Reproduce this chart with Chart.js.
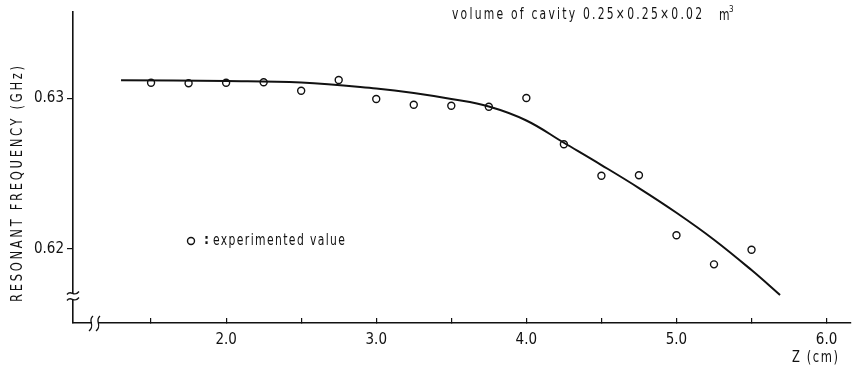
<!DOCTYPE html>
<html lang="en">
<head>
<meta charset="UTF-8" />
<title>Resonant frequency vs Z</title>
<script src="https://cdn.jsdelivr.net/npm/chart.js@4.4.0/dist/chart.umd.min.js"></script>
<style>
body { margin: 0; background: #fff; }
.wrap { position: relative; width: 856px; height: 372px; }
</style>
</head>
<body>
<div class="wrap"><canvas id="c"></canvas></div>
<script>
// measured points (circles)
const measZ = [1.5, 1.75, 2.0, 2.25, 2.5, 2.75, 3.0, 3.25, 3.5, 3.75, 4.0, 4.25, 4.5, 4.75, 5.0, 5.25, 5.5];
const measF = [0.63105, 0.63101, 0.63105, 0.63108, 0.63052, 0.63123, 0.62997, 0.62959, 0.62952, 0.62945,
               0.63003, 0.62696, 0.62487, 0.62490, 0.62091, 0.61898, 0.61995];
// fitted curve
const fitZ = [1.3, 2.0, 2.5, 3.0, 3.25, 3.5, 3.75, 4.0, 4.25, 4.5, 4.75, 5.0, 5.25, 5.5, 5.69];
const fitF = [0.63121, 0.63116, 0.63106, 0.63066, 0.63037, 0.62997, 0.62947, 0.62854, 0.62706,
              0.62558, 0.62405, 0.62241, 0.62062, 0.61860, 0.61694];
const xTicks = [1.5, 2.0, 2.5, 3.0, 3.5, 4.0, 4.5, 5.0, 5.5, 6.0];
const yTicks = [0.62, 0.63];

const FONT = '"Liberation Sans Narrow", "DejaVu Sans Condensed", "Open Sans", sans-serif';
Chart.defaults.font.family = FONT;
Chart.defaults.color = '#111';

// narrow text stretched to a given width with letter spacing
function spaced(ctx, text, x, y, width, align, sx) {
  sx = sx || 0.8;
  ctx.save();
  ctx.letterSpacing = '0px';
  const w = ctx.measureText(text).width;
  const sp = text.length > 1 ? (width / sx - w) / (text.length - 1) : 0;
  const x0 = align === 'center' ? x - width / 2 : align === 'right' ? x - width : x;
  ctx.translate(x0, y);
  ctx.scale(sx, 1);
  ctx.letterSpacing = sp + 'px';
  ctx.textAlign = 'left';
  ctx.fillText(text, 0, 0);
  ctx.restore();
}

const decor = {
  id: 'decor',
  afterDraw(chart) {
    const { ctx, chartArea: a } = chart;
    ctx.save();
    ctx.fillStyle = '#111';
    ctx.textBaseline = 'middle';

    // y axis title
    ctx.save();
    ctx.translate(18, 184);
    ctx.rotate(-Math.PI / 2);
    ctx.font = '16px ' + FONT;
    spaced(ctx, 'RESONANT FREQUENCY (GHz)', 0, 0, 236, 'center', 0.8);
    ctx.restore();

    // x axis title
    ctx.font = '16px ' + FONT;
    spaced(ctx, 'Z (cm)', 838, 358, 46, 'right', 0.8);

    // cavity note
    ctx.font = '15px ' + FONT;
    spaced(ctx, 'volume of cavity 0.25\u00d70.25\u00d70.02', 452, 15, 250, 'left', 0.8);
    spaced(ctx, 'm', 719, 16, 9, 'left', 0.8);
    ctx.font = '8px ' + FONT;
    ctx.fillText('3', 729, 10);

    // legend
    ctx.strokeStyle = '#111';
    ctx.lineWidth = 1.4;
    ctx.beginPath();
    ctx.arc(191, 241, 3.5, 0, Math.PI * 2);
    ctx.stroke();
    ctx.font = 'bold 14px ' + FONT;
    ctx.fillText(':', 204, 240);
    ctx.font = '15px ' + FONT;
    spaced(ctx, 'experimented value', 213, 241, 132, 'left', 0.8);

    // axis breaks
    ctx.fillStyle = '#fff';
    const by = a.bottom - 27;
    ctx.fillRect(a.left - 2, by - 2, 4, 6);
    const bx = a.left + 21;
    ctx.fillRect(bx - 2, a.bottom - 2, 6, 4);
    ctx.strokeStyle = '#111';
    ctx.lineWidth = 1.3;
    [by - 3, by + 3].forEach(yy => {
      ctx.beginPath();
      ctx.moveTo(a.left - 6, yy + 1.5);
      ctx.bezierCurveTo(a.left - 2, yy - 4, a.left + 1, yy + 5, a.left + 6, yy - 1.5);
      ctx.stroke();
    });
    [bx - 3, bx + 4].forEach(xx => {
      ctx.beginPath();
      ctx.moveTo(xx + 2, a.bottom - 7);
      ctx.bezierCurveTo(xx - 4, a.bottom - 2, xx + 5, a.bottom + 2, xx - 2, a.bottom + 8);
      ctx.stroke();
    });
    ctx.restore();
  }
};

new Chart(document.getElementById('c'), {
  type: 'scatter',
  data: {
    datasets: [
      {
        data: fitZ.map((z, i) => ({ x: z, y: fitF[i] })),
        showLine: true,
        borderColor: '#111',
        borderWidth: 2,
        pointRadius: 0,
        tension: 0.4
      },
      {
        data: measZ.map((z, i) => ({ x: z, y: measF[i] })),
        pointRadius: 3.5,
        pointBorderWidth: 1.4,
        pointBorderColor: '#111',
        pointBackgroundColor: '#fff'
      }
    ]
  },
  options: {
    responsive: true,
    maintainAspectRatio: false,
    animation: false,
    layout: { padding: { top: 12, left: 0, right: 1, bottom: 0 } },
    plugins: { legend: { display: false }, tooltip: { enabled: false } },
    scales: {
      x: {
        type: 'linear',
        min: 0.98, max: 6.16,
        afterBuildTicks: s => { s.ticks = xTicks.map(v => ({ value: v })); },
        afterFit: s => { s.height = 49; },
        border: { display: true, color: '#111', width: 1.6 },
        grid: { drawOnChartArea: false, drawTicks: true, tickLength: -5, color: '#111', lineWidth: 1.2 },
        ticks: {
          padding: 13,
          maxRotation: 0,
          autoSkip: false,
          font: { size: 15 },
          callback: v => Number.isInteger(v) ? v.toFixed(1) : ''
        }
      },
      y: {
        type: 'linear',
        min: 0.615083, max: 0.635748,
        afterBuildTicks: s => { s.ticks = yTicks.map(v => ({ value: v })); },
        afterFit: s => { s.width = 73; },
        border: { display: true, color: '#111', width: 1.6 },
        grid: { drawOnChartArea: false, drawTicks: true, tickLength: 6, color: '#111', lineWidth: 1.2 },
        ticks: {
          padding: 3,
          font: { size: 15 },
          callback: v => v.toFixed(2)
        }
      }
    }
  },
  plugins: [decor]
});
</script>
</body>
</html>
